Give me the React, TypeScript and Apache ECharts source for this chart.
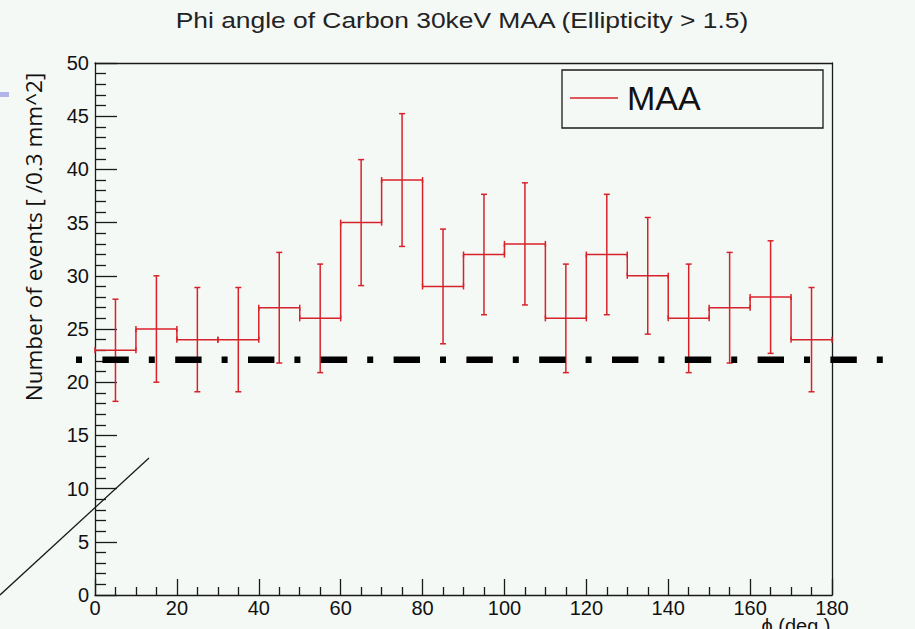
import React, { useEffect, useRef } from "react";
import * as echarts from "echarts";

// Histogram of the azimuthal angle, 10-degree bins
const BIN_LOW = [0, 10, 20, 30, 40, 50, 60, 70, 80, 90, 100, 110, 120, 130, 140, 150, 160, 170];
const BIN_WIDTH = 10;
const COUNTS = [23, 25, 24, 24, 27, 26, 35, 39, 29, 32, 33, 26, 32, 30, 26, 27, 28, 24];
const ERRORS = [4.8, 5.0, 4.9, 4.9, 5.2, 5.1, 5.92, 6.24, 5.39, 5.66, 5.74, 5.1, 5.66, 5.48, 5.1, 5.2, 5.29, 4.9];
const FLAT_LEVEL = 22.1;

const X_TICKS = [0, 20, 40, 60, 80, 100, 120, 140, 160, 180];
const Y_TICKS = [0, 5, 10, 15, 20, 25, 30, 35, 40, 45, 50];

const TITLE = "Phi angle of Carbon 30keV MAA (Ellipticity > 1.5)";
const Y_TITLE = "Number of events [ /0.3 mm^2]";
const X_TITLE = "ϕ (deg.)";
const SERIES_NAME = "MAA";

const RED = "#d8222a";
const INK = "#1a1a1a";
const BG = "#f5f9f6";
const SANS = "'Liberation Sans', Arial, sans-serif";

export default function App() {
  const ref = useRef<HTMLDivElement>(null);

  useEffect(() => {
    if (!ref.current) return;
    const chart = echarts.init(ref.current, undefined, { renderer: "svg" });

    const rows = BIN_LOW.map((lo, i) => [
      lo,
      lo + BIN_WIDTH,
      COUNTS[i],
      ERRORS[i],
      i > 0 ? COUNTS[i - 1] : COUNTS[i],
    ]);

    const axisLineStyle = { color: INK, width: 1.3 };

    chart.setOption({
      animation: false,
      backgroundColor: BG,
      grid: { left: 95, right: 83, top: 63, bottom: 34, containLabel: false },
      legend: {
        data: [SERIES_NAME],
        left: 570,
        top: 81,
        padding: 0,
        icon: "rect",
        itemWidth: 48,
        itemHeight: 1.5,
        textStyle: { fontSize: 34, fontFamily: SANS, color: "#111", padding: [0, 0, 0, 4] },
      },
      xAxis: [
        {
          type: "value",
          min: X_TICKS[0],
          max: X_TICKS[X_TICKS.length - 1],
          interval: X_TICKS[1] - X_TICKS[0],
          position: "bottom",
          axisLine: { show: true, onZero: false, lineStyle: axisLineStyle },
          axisTick: { show: true, inside: true, length: 16, lineStyle: axisLineStyle },
          minorTick: { show: true, splitNumber: 4, length: 8, lineStyle: axisLineStyle },
          axisLabel: { fontSize: 20, fontFamily: SANS, color: "#111", margin: 3 },
          splitLine: { show: false },
        },
        {
          type: "value",
          min: X_TICKS[0],
          max: X_TICKS[X_TICKS.length - 1],
          position: "top",
          axisLine: { show: true, onZero: false, lineStyle: axisLineStyle },
          axisTick: { show: false },
          axisLabel: { show: false },
          splitLine: { show: false },
        },
      ],
      yAxis: [
        {
          type: "value",
          min: Y_TICKS[0],
          max: Y_TICKS[Y_TICKS.length - 1],
          interval: Y_TICKS[1] - Y_TICKS[0],
          position: "left",
          axisLine: { show: true, onZero: false, lineStyle: axisLineStyle },
          axisTick: { show: true, inside: true, length: 22, lineStyle: axisLineStyle },
          minorTick: { show: true, splitNumber: 5, length: 11, lineStyle: axisLineStyle },
          axisLabel: { fontSize: 20, fontFamily: SANS, color: "#111", margin: 6 },
          splitLine: { show: false },
        },
        {
          type: "value",
          min: Y_TICKS[0],
          max: Y_TICKS[Y_TICKS.length - 1],
          position: "right",
          axisLine: { show: true, onZero: false, lineStyle: axisLineStyle },
          axisTick: { show: false },
          axisLabel: { show: false },
          splitLine: { show: false },
        },
      ],
      series: [
        {
          name: SERIES_NAME,
          type: "custom",
          xAxisIndex: 0,
          yAxisIndex: 0,
          itemStyle: { color: RED },
          encode: { x: [0, 1], y: [2] },
          data: rows,
          renderItem: (_params: any, api: any) => {
            const lo = api.value(0);
            const hi = api.value(1);
            const v = api.value(2);
            const e = api.value(3);
            const pv = api.value(4);
            const mid = (lo + hi) / 2;
            const a = api.coord([lo, v]);
            const b = api.coord([hi, v]);
            const top = api.coord([mid, v + e]);
            const bot = api.coord([mid, v - e]);
            const prev = api.coord([lo, pv]);
            const style = { stroke: RED, lineWidth: 1.5, fill: "none" };
            const cap = 3;
            const seg = (x1: number, y1: number, x2: number, y2: number) => ({
              type: "line",
              shape: { x1, y1, x2, y2 },
              style,
            });
            return {
              type: "group",
              children: [
                seg(prev[0], prev[1], a[0], a[1]),
                seg(a[0], a[1], b[0], b[1]),
                seg(a[0], a[1] - cap, a[0], a[1] + cap),
                seg(b[0], b[1] - cap, b[0], b[1] + cap),
                seg(top[0], top[1], bot[0], bot[1]),
                seg(top[0] - cap, top[1], top[0] + cap, top[1]),
                seg(bot[0] - cap, bot[1], bot[0] + cap, bot[1]),
              ],
            };
          },
        },
      ],
    });

    const levelY = chart.convertToPixel({ yAxisIndex: 0 }, FLAT_LEVEL) as number;

    chart.setOption({
      graphic: [
        {
          type: "text",
          id: "title",
          x: 462,
          y: 20,
          scaleX: 1.2,
          style: {
            text: TITLE,
            fontSize: 22,
            fontFamily: SANS,
            fill: "#222",
            align: "center",
            verticalAlign: "middle",
          },
        },
        {
          type: "text",
          id: "ytitle",
          x: 33,
          y: 237,
          rotation: Math.PI / 2,
          style: {
            text: Y_TITLE,
            fontSize: 22.5,
            fontFamily: "'Open Sans', sans-serif",
            fill: "#111",
            align: "center",
            verticalAlign: "middle",
          },
        },
        {
          type: "text",
          id: "xtitle",
          x: 796,
          y: 616,
          style: {
            text: X_TITLE,
            fontSize: 20,
            fontFamily: SANS,
            fill: "#111",
            align: "center",
            verticalAlign: "top",
          },
        },
        {
          type: "rect",
          id: "legendBox",
          shape: { x: 562, y: 70, width: 261, height: 58 },
          style: { fill: "none", stroke: INK, lineWidth: 1.3 },
        },
        {
          type: "line",
          id: "flatLevel",
          shape: { x1: 76, y1: levelY, x2: 885, y2: levelY },
          style: { stroke: "#000", lineWidth: 6.5, lineDash: [6, 20.4, 26.4, 20], lineCap: "butt" },
          z: 10,
        },
        {
          type: "line",
          id: "pointer",
          shape: { x1: 0, y1: 595, x2: 149, y2: 458 },
          style: { stroke: INK, lineWidth: 1.3 },
          z: 10,
        },
        {
          type: "rect",
          id: "marker",
          shape: { x: 0, y: 92, width: 9, height: 5 },
          style: { fill: "#b4b4ec" },
        },
      ],
    });

    return () => chart.dispose();
  }, []);

  return (
    <div
      ref={ref}
      style={{ position: "fixed", left: 0, top: 0, width: 915, height: 629 }}
    />
  );
}
